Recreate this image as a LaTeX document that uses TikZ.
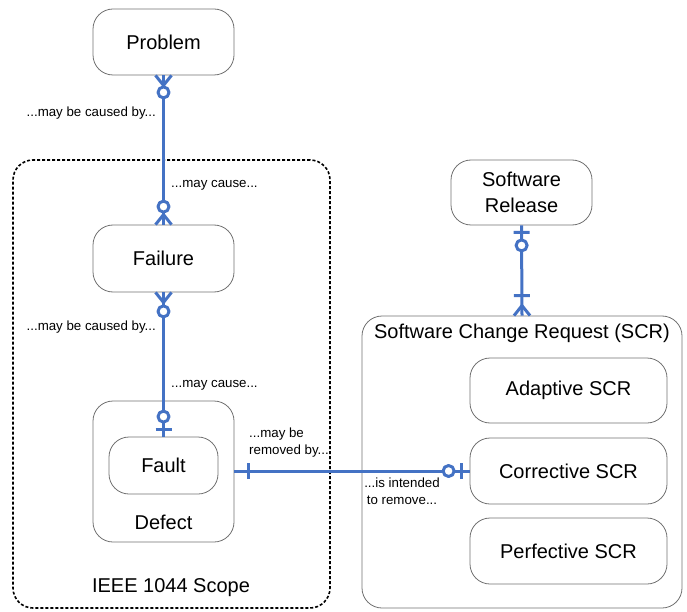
\documentclass[tikz,border=0pt]{standalone}
\usepackage{fontspec}
\setmainfont{Liberation Sans}
\usetikzlibrary{decorations.markings}

\definecolor{relblue}{RGB}{68,114,196}
\definecolor{boxgray}{RGB}{112,112,112}

\tikzset{
  entity/.style={draw=boxgray, line width=0.8pt, rounded corners=20pt, align=center,
    inner sep=0pt, font=\fontsize{20}{26}\selectfont},
  title/.style={inner sep=0pt, font=\fontsize{20}{26}\selectfont},
  relnote/.style={inner sep=0pt, font=\fontsize{13.3}{17}\selectfont},
  scopebox/.style={draw=black, line width=1.6pt, dash pattern=on 3pt off 2pt, rounded corners=20pt, inner sep=0pt},
  rel/.style={draw=relblue, line width=3pt},
  relmark/.style={draw=relblue, line width=3pt, line join=round},
  ringat/.style={postaction={decorate, decoration={markings,
    mark=at position #1 with {\draw[relmark, fill=white] (0,0) circle[radius=5.5pt];}}}},
  barat/.style={postaction={decorate, decoration={markings,
    mark=at position #1 with {\draw[relmark] (0,-8pt) -- (0,8pt);}}}},
  crowfwd/.style={postaction={decorate, decoration={markings,
    mark=at position #1 with {\draw[relmark] (10pt,-8pt) -- (0,0) -- (10pt,8pt);}}}},
  crowback/.style={postaction={decorate, decoration={markings,
    mark=at position #1 with {\draw[relmark] (-10pt,-8pt) -- (0,0) -- (-10pt,8pt);}}}}
}

\begin{document}
\begin{tikzpicture}[x=1pt, y=-1pt]
\useasboundingbox (0,0) rectangle (687,612);

\node[entity, minimum width=141pt, minimum height=66pt] (problem) at (163.5,42) {Problem};

\node[scopebox, minimum width=317pt, minimum height=448pt] (ieee) at (171.5,384) {};
\node[title] (ieeelabel) at (171,588) {IEEE 1044 Scope};

\node[entity, minimum width=141pt, minimum height=67pt] (failure) at (163.5,258.5) {Failure};
\node[entity, minimum width=141pt, minimum height=141pt] (defect) at (163.5,471.5) {};
\node[entity, minimum width=109pt, minimum height=57pt] (fault) at (163.5,465.5) {Fault};
\node[title] (defectlabel) at (163.5,522) {Defect};

\node[entity, minimum width=141pt, minimum height=65pt] (release) at (521.5,192.5) {Software\\Release};

\node[entity, minimum width=320pt, minimum height=292pt] (scr) at (522,462) {};
\node[title] (scrlabel) at (522,333) {Software Change Request (SCR)};
\node[entity, minimum width=197pt, minimum height=65pt] (adaptive) at (568.5,390.5) {Adaptive SCR};
\node[entity, minimum width=197pt, minimum height=66pt] (corrective) at (568.5,471) {Corrective SCR};
\node[entity, minimum width=197pt, minimum height=66pt] (perfective) at (568.5,551) {Perfective SCR};

\draw[rel, crowback=10pt, ringat=17pt, ringat=-18pt, crowfwd=-10pt] (problem.south) -- (failure.north);
\draw[rel, crowback=10pt, ringat=19pt, ringat=-20pt, barat=-7pt] (failure.south) -- (fault.north);
\draw[rel, barat=14pt, ringat=-21pt, barat=-8pt] (corrective.west -| defect.east) -- (corrective.west);
\draw[rel, barat=7pt, ringat=20pt, barat=-20pt, crowfwd=-10pt] (release.south) -- (scr.north);

\node[relnote, anchor=east] (causedby1) at (156,113) {...may be caused by...};
\node[relnote, anchor=west] (causes1) at (171,185) {...may cause...};
\node[relnote, anchor=east] (causedby2) at (156,327) {...may be caused by...};
\node[relnote, anchor=west] (causes2) at (171,385) {...may cause...};
\node[relnote, anchor=west, align=left] (removedby) at (249,443) {...may be\\removed by...};
\node[relnote, align=center] (toremove) at (402,491) {...is intended\\to remove...};

\end{tikzpicture}
\end{document}
